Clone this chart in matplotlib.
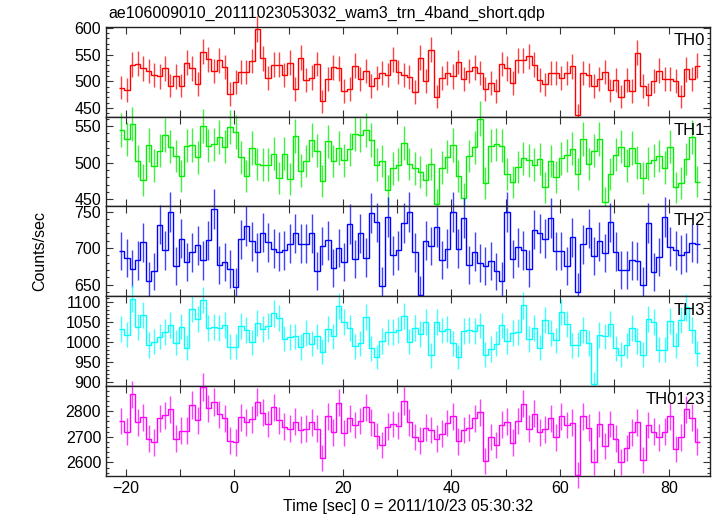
import numpy as np
import matplotlib
matplotlib.use("Agg")
import matplotlib.pyplot as plt
from matplotlib.ticker import MultipleLocator

plt.rcParams['font.family'] = ['Liberation Sans', 'DejaVu Sans']

title = "ae106009010_20111023053032_wam3_trn_4band_short.qdp"
xlabel = "Time [sec] 0 = 2011/10/23 05:30:32"
ylabel = "Counts/sec"
band_labels = ["TH0", "TH1", "TH2", "TH3", "TH0123"]
colors = ["#ff0000", "#00ee00", "#0000ff", "#00ffff", "#ff00ff"]

t_first = -20.75   # centre of first 1-s bin
bin_width = 1.0

th0 = [488, 484, 531, 533, 524, 519, 512, 509, 524, 492, 509, 492, 535, 524, 495, 555, 541, 519, 539, 527,
       476, 498, 517, 517, 538, 597, 543, 506, 531, 531, 512, 535, 486, 544, 502, 507, 532, 463, 504, 526,
       524, 482, 486, 529, 505, 519, 491, 506, 515, 511, 540, 517, 512, 508, 480, 544, 500, 559, 471, 506,
       516, 509, 536, 504, 519, 526, 516, 486, 497, 482, 532, 524, 496, 539, 539, 547, 531, 502, 494, 515,
       516, 506, 516, 528, 436, 516, 511, 491, 504, 517, 483, 502, 471, 502, 482, 553, 491, 475, 500, 520,
       505, 505, 501, 472, 522, 504, 529]
th1 = [544, 532, 553, 502, 476, 524, 496, 516, 538, 522, 509, 482, 523, 524, 507, 550, 523, 525, 535, 522,
       549, 542, 507, 482, 520, 498, 497, 497, 512, 479, 512, 478, 536, 489, 502, 531, 516, 475, 529, 502,
       520, 503, 518, 539, 538, 545, 531, 497, 502, 462, 492, 497, 527, 498, 492, 487, 476, 498, 443, 493,
       508, 524, 482, 451, 509, 521, 560, 472, 523, 525, 523, 484, 473, 494, 506, 503, 497, 505, 466, 502,
       480, 506, 510, 519, 484, 532, 498, 516, 532, 446, 484, 511, 522, 496, 520, 500, 479, 499, 503, 509,
       493, 522, 466, 472, 505, 535, 474]
th2 = [696, 686, 672, 683, 708, 655, 668, 732, 697, 749, 676, 713, 681, 694, 704, 683, 711, 753, 677, 681,
       671, 647, 712, 730, 709, 694, 721, 708, 699, 695, 697, 706, 720, 706, 706, 720, 669, 703, 711, 673,
       700, 681, 733, 685, 720, 687, 748, 735, 648, 742, 690, 697, 734, 749, 694, 636, 710, 703, 729, 684,
       699, 749, 699, 741, 677, 695, 680, 675, 682, 668, 655, 749, 685, 701, 697, 672, 725, 720, 713, 741,
       696, 696, 675, 715, 640, 705, 727, 689, 709, 693, 735, 695, 670, 670, 683, 682, 649, 734, 667, 688,
       742, 702, 697, 691, 694, 707, 706]
th3 = [1032, 1018, 1108, 1037, 1067, 992, 1000, 1013, 1024, 1042, 998, 1038, 985, 1082, 1057, 1105, 1034, 1037, 1034, 1042,
       988, 988, 1040, 1029, 999, 1047, 1032, 1039, 1071, 1059, 1008, 1012, 1014, 987, 1022, 995, 1014, 975, 1032, 1014,
       1090, 1049, 1034, 989, 996, 1062, 984, 962, 1002, 1025, 1025, 1029, 1065, 1000, 1035, 1019, 1049, 966, 1049, 1028,
       1032, 996, 962, 1027, 1030, 1027, 1041, 968, 982, 995, 1041, 1002, 1022, 1025, 1091, 1007, 1035, 985, 1055, 1022,
       1004, 1074, 1044, 991, 993, 1029, 997, 895, 1017, 1014, 1045, 984, 968, 991, 1035, 1002, 968, 1057, 1050, 980,
       980, 1051, 990, 1055, 1086, 1030, 971]
th0123 = [2762, 2720, 2866, 2756, 2776, 2693, 2678, 2772, 2785, 2807, 2693, 2724, 2724, 2824, 2764, 2895, 2812, 2836, 2789, 2772,
          2685, 2678, 2776, 2756, 2768, 2836, 2795, 2750, 2816, 2764, 2740, 2732, 2759, 2728, 2732, 2756, 2732, 2617, 2780, 2717,
          2834, 2715, 2772, 2746, 2762, 2815, 2756, 2703, 2668, 2740, 2750, 2743, 2840, 2756, 2700, 2685, 2736, 2727, 2693, 2713,
          2754, 2780, 2682, 2727, 2736, 2772, 2796, 2604, 2700, 2669, 2748, 2759, 2677, 2762, 2829, 2732, 2791, 2717, 2730, 2772,
          2698, 2780, 2746, 2755, 2552, 2781, 2735, 2603, 2750, 2664, 2750, 2693, 2603, 2657, 2717, 2756, 2608, 2746, 2720, 2698,
          2720, 2780, 2653, 2698, 2808, 2775, 2681]

series = [th0, th1, th2, th3, th0123]
ylims = [(434, 602), (440, 563), (634, 757), (889, 1114), (2547, 2898)]
y_major = [50, 50, 50, 50, 100]
y_minor = [10, 10, 10, 10, 20]
xlim = (-23.6, 87.6)

fig = plt.figure(figsize=(7.17, 5.16), dpi=100)
left, right = 106 / 717, 710 / 717
top, bottom = 1 - 26.7 / 516, 1 - 476 / 516
h = (top - bottom) / 5

for k, (vals, lab, col) in enumerate(zip(series, band_labels, colors)):
    ax = fig.add_axes([left, top - (k + 1) * h, right - left, h])
    v = np.asarray(vals, dtype=float)
    n = len(v)
    centers = t_first + bin_width * np.arange(n)
    edges = np.append(centers - bin_width / 2, centers[-1] + bin_width / 2)
    err = np.sqrt(v * bin_width) / bin_width   # Poisson errors of counts per bin
    ax.vlines(centers, v - err, v + err, colors=col, lw=1.0, alpha=0.75, clip_on=False, zorder=2)
    ax.stairs(v, edges, baseline=None, color=col, lw=1.0, clip_on=False, zorder=3)
    ax.set_xlim(*xlim)
    ax.set_ylim(*ylims[k])
    ax.xaxis.set_major_locator(MultipleLocator(20))
    ax.xaxis.set_minor_locator(MultipleLocator(10))
    ax.yaxis.set_major_locator(MultipleLocator(y_major[k]))
    ax.yaxis.set_minor_locator(MultipleLocator(y_minor[k]))
    ax.tick_params(which='both', direction='in', top=True, right=True, labelsize=11.5,
                   color='#333333', width=0.8)
    ax.tick_params(which='major', length=5)
    ax.tick_params(which='minor', length=2.5)
    ax.tick_params(axis='x', which='minor', length=5)
    for s in ax.spines.values():
        s.set_linewidth(1.0)
        s.set_color('#222222')
    ax.text(0.992, 0.93, lab, transform=ax.transAxes, ha='right', va='top', fontsize=12)
    if k < 4:
        ax.tick_params(labelbottom=False)
    else:
        ax.set_xlabel(xlabel, fontsize=11.5, labelpad=2)

fig.text(108 / 717, 1 - 13 / 516, title, ha='left', va='center', fontsize=11.5)
fig.text(40 / 717, 1 - 251 / 516, ylabel, rotation=90, ha='center', va='center', fontsize=11.5)

fig.savefig("out.png", dpi=100)
